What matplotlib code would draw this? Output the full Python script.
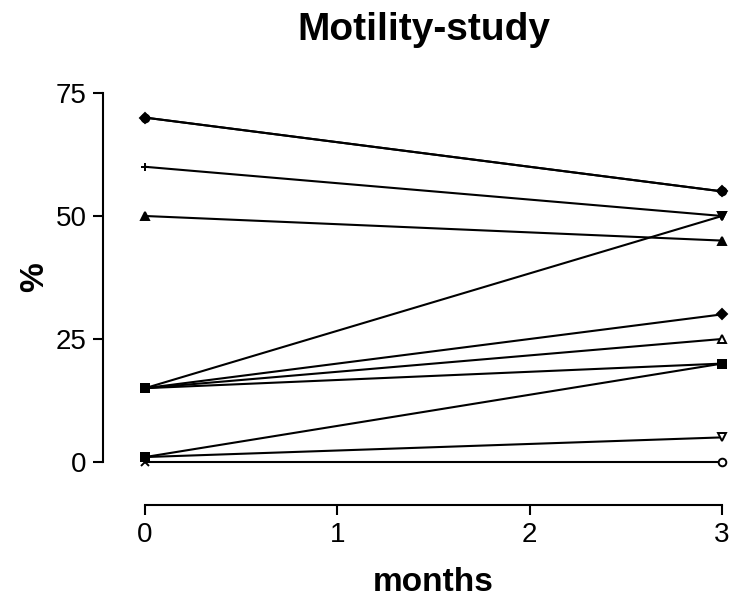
import matplotlib
matplotlib.use('Agg')
import matplotlib.pyplot as plt

plt.rcParams['font.family'] = ['Liberation Sans', 'DejaVu Sans']

months = [0, 3]
# motility (%) per subject at month 0 and month 3
subjects = [
    [70, 55],
    [70, 55],
    [60, 50],
    [50, 45],
    [15, 50],
    [15, 30],
    [15, 25],
    [15, 20],
    [1, 20],
    [1, 5],
    [0, 0],
]
start_markers = ['D', 'o', '+', '^', 's', 's', 's', 's', 's', 's', 'x']
end_markers = ['D', 'o', 'v', '^', 'v', 'D', '^', 's', 's', 'v', 'o']
end_fill = ['k', 'k', 'k', 'k', 'k', 'k', 'w', 'k', 'k', 'w', 'w']

xticks = [0, 1, 2, 3]
yticks = [0, 25, 50, 75]

fig = plt.figure(figsize=(7.31, 6.07), dpi=100)
ax = fig.add_axes([0.1984, 0.2389, 0.7893, 0.6079])

for vals, m0, m1, fc in zip(subjects, start_markers, end_markers, end_fill):
    ax.plot(months, vals, color='black', lw=1.5, clip_on=False, zorder=2)
    ax.plot(months[0], vals[0], marker=m0, color='black', ms=5.5,
            mew=1.4, clip_on=False, zorder=3)
    ax.plot(months[1], vals[1], marker=m1, mfc=fc, mec='black', ms=5.5,
            mew=1.4, clip_on=False, zorder=3)

ax.set_xlim(0, 3)
ax.set_ylim(0, 75)
ax.set_xticks(xticks)
ax.set_yticks(yticks)

for side in ['top', 'right']:
    ax.spines[side].set_visible(False)
ax.spines['left'].set_position(('outward', 30))
ax.spines['bottom'].set_position(('outward', 31))
for side in ['left', 'bottom']:
    ax.spines[side].set_linewidth(1.5)
ax.tick_params(width=1.5, length=7, labelsize=20, pad=5)

fig.text(424 / 731, 1 - 30 / 607, 'Motility-study', fontsize=28,
         fontweight='bold', ha='center', va='center')
ax.set_xlabel('months', fontsize=24, fontweight='bold', labelpad=14)
ax.set_ylabel('%', fontsize=24, fontweight='bold', labelpad=4)

fig.savefig('out.png', dpi=100)
